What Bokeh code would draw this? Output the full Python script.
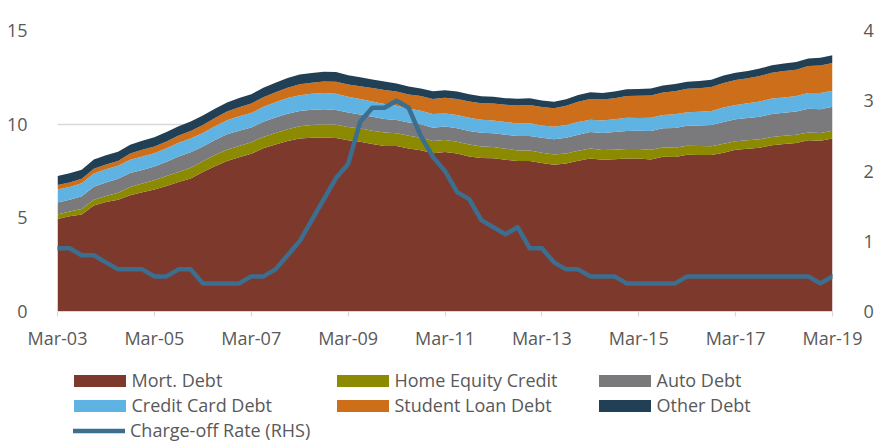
from bokeh.plotting import figure
from bokeh.layouts import column
from bokeh.models import (ColumnDataSource, Range1d, LinearAxis, FixedTicker,
                          Legend, LegendItem)
from bokeh.embed import file_html
from bokeh.resources import INLINE

# ---------------- data (trillions of $, quarterly) ----------------
quarters = [f"{m}-{y:02d}" for y in range(3, 19) for m in ("Mar", "Jun", "Sep", "Dec")] + ["Mar-19"]

mort = [4.94, 5.08, 5.18, 5.66, 5.84, 5.97, 6.21, 6.36, 6.51, 6.70, 6.91, 7.10,
        7.44, 7.76, 8.04, 8.23, 8.42, 8.71, 8.91, 9.10, 9.23, 9.27, 9.29, 9.26,
        9.14, 9.06, 8.94, 8.84, 8.83, 8.70, 8.61, 8.45, 8.52, 8.43, 8.27, 8.20,
        8.18, 8.10, 8.03, 8.03, 7.93, 7.84, 7.90, 8.05, 8.17, 8.10, 8.13, 8.17,
        8.17, 8.12, 8.26, 8.25, 8.37, 8.36, 8.35, 8.48, 8.63, 8.69, 8.74, 8.88,
        8.94, 9.00, 9.14, 9.12, 9.24]
home_equity = [0.24, 0.26, 0.29, 0.30, 0.33, 0.37, 0.43, 0.47, 0.50, 0.53, 0.54, 0.57,
               0.58, 0.59, 0.60, 0.60, 0.61, 0.61, 0.62, 0.63, 0.66, 0.69, 0.70, 0.71,
               0.71, 0.71, 0.71, 0.71, 0.68, 0.68, 0.67, 0.65, 0.64, 0.63, 0.64, 0.61,
               0.60, 0.59, 0.57, 0.56, 0.55, 0.54, 0.54, 0.53, 0.53, 0.52, 0.51, 0.51,
               0.51, 0.51, 0.49, 0.49, 0.48, 0.47, 0.47, 0.47, 0.46, 0.45, 0.45, 0.44,
               0.44, 0.43, 0.42, 0.41, 0.41]
auto = [0.64, 0.62, 0.68, 0.70, 0.72, 0.74, 0.75, 0.73, 0.73, 0.77, 0.83, 0.83,
        0.79, 0.80, 0.82, 0.82, 0.79, 0.81, 0.82, 0.82, 0.81, 0.81, 0.81, 0.79,
        0.77, 0.74, 0.74, 0.72, 0.71, 0.71, 0.71, 0.71, 0.71, 0.72, 0.73, 0.73,
        0.74, 0.75, 0.77, 0.78, 0.79, 0.81, 0.84, 0.86, 0.88, 0.91, 0.94, 0.96,
        0.97, 1.01, 1.03, 1.06, 1.07, 1.10, 1.13, 1.16, 1.17, 1.19, 1.21, 1.22,
        1.23, 1.24, 1.26, 1.27, 1.28]
credit_card = [0.69, 0.69, 0.69, 0.71, 0.70, 0.70, 0.71, 0.72, 0.71, 0.71, 0.73, 0.74,
               0.72, 0.74, 0.75, 0.77, 0.77, 0.80, 0.82, 0.85, 0.85, 0.86, 0.87, 0.87,
               0.84, 0.83, 0.82, 0.80, 0.76, 0.74, 0.73, 0.73, 0.70, 0.71, 0.70, 0.70,
               0.68, 0.68, 0.67, 0.68, 0.66, 0.67, 0.67, 0.68, 0.66, 0.67, 0.68, 0.70,
               0.68, 0.70, 0.71, 0.73, 0.71, 0.73, 0.75, 0.78, 0.76, 0.78, 0.81, 0.83,
               0.82, 0.83, 0.84, 0.87, 0.85]
student_loan = [0.24, 0.24, 0.25, 0.25, 0.26, 0.26, 0.33, 0.35, 0.36, 0.37, 0.38, 0.39,
                0.43, 0.44, 0.46, 0.48, 0.51, 0.51, 0.53, 0.55, 0.58, 0.58, 0.61, 0.64,
                0.66, 0.68, 0.72, 0.76, 0.76, 0.76, 0.78, 0.81, 0.84, 0.86, 0.87, 0.87,
                0.90, 0.91, 0.96, 0.97, 0.99, 0.99, 1.03, 1.08, 1.11, 1.12, 1.13, 1.16,
                1.19, 1.19, 1.20, 1.23, 1.26, 1.26, 1.28, 1.31, 1.34, 1.34, 1.36, 1.38,
                1.41, 1.41, 1.44, 1.46, 1.49]
other = [0.48, 0.49, 0.48, 0.49, 0.49, 0.49, 0.47, 0.48, 0.49, 0.50, 0.50, 0.51,
         0.50, 0.49, 0.49, 0.50, 0.50, 0.50, 0.51, 0.52, 0.52, 0.52, 0.52, 0.51,
         0.49, 0.48, 0.46, 0.45, 0.43, 0.42, 0.41, 0.41, 0.40, 0.39, 0.39, 0.38,
         0.36, 0.36, 0.36, 0.36, 0.35, 0.35, 0.35, 0.36, 0.35, 0.35, 0.36, 0.36,
         0.36, 0.37, 0.37, 0.38, 0.38, 0.39, 0.39, 0.40, 0.39, 0.39, 0.40, 0.40,
         0.40, 0.41, 0.41, 0.41, 0.41]
charge_off = [0.9, 0.9, 0.8, 0.8, 0.7, 0.6, 0.6, 0.6, 0.5, 0.5, 0.6, 0.6,
              0.4, 0.4, 0.4, 0.4, 0.5, 0.5, 0.6, 0.8, 1.0, 1.3, 1.6, 1.9,
              2.1, 2.7, 2.9, 2.9, 3.0, 2.9, 2.5, 2.2, 2.0, 1.7, 1.6, 1.3,
              1.2, 1.1, 1.2, 0.9, 0.9, 0.7, 0.6, 0.6, 0.5, 0.5, 0.5, 0.4,
              0.4, 0.4, 0.4, 0.4, 0.5, 0.5, 0.5, 0.5, 0.5, 0.5, 0.5, 0.5,
              0.5, 0.5, 0.5, 0.4, 0.5]

series_names = ["Mort. Debt", "Home Equity Credit", "Auto Debt",
                "Credit Card Debt", "Student Loan Debt", "Other Debt"]
line_name = "Charge-off Rate (RHS)"
tick_labels = ["Mar-03", "Mar-05", "Mar-07", "Mar-09", "Mar-11",
               "Mar-13", "Mar-15", "Mar-17", "Mar-19"]
left_ticks = [0, 5, 10, 15]
right_ticks = [0, 1, 2, 3, 4]

colors = ["#7E392D", "#8C8A00", "#7A7A7C", "#5FB3E3", "#CD6E1B", "#213F55"]
line_color = "#3B6E8F"
text_color = "#595959"
grid_color = "#D9D9D9"
FONT = "Open Sans"
W = 881

# ---------------- main chart ----------------
x = list(range(len(quarters)))
keys = ["mort", "he", "auto", "cc", "sl", "oth"]
source = ColumnDataSource(dict(x=x, mort=mort, he=home_equity, auto=auto,
                               cc=credit_card, sl=student_loan, oth=other,
                               rate=charge_off))

p = figure(width=W, height=355, output_backend="svg", toolbar_location=None,
           x_range=Range1d(0, len(quarters) - 1), y_range=Range1d(0, 15),
           min_border_left=57, min_border_right=49, min_border_top=30,
           min_border_bottom=44, y_axis_location=None, x_axis_location=None)
p.outline_line_color = None
p.extra_y_ranges = {"rhs": Range1d(0, 4)}

area_renderers = p.varea_stack(stackers=keys, x="x", color=colors, source=source)
line_r = p.line("x", "rate", source=source, y_range_name="rhs",
                line_color=line_color, line_width=4.5,
                line_cap="round", line_join="round")

xaxis = LinearAxis(ticker=FixedTicker(ticks=[quarters.index(t) for t in tick_labels]),
                   major_label_overrides={quarters.index(t): t for t in tick_labels})
xaxis.axis_line_color = grid_color
xaxis.axis_line_width = 1.2
xaxis.major_tick_line_color = grid_color
xaxis.major_tick_line_width = 1.2
xaxis.major_tick_out = 5
xaxis.major_tick_in = 0
xaxis.minor_tick_line_color = None
xaxis.major_label_standoff = 9
p.add_layout(xaxis, "below")

yaxis = LinearAxis(ticker=FixedTicker(ticks=left_ticks))
yaxis.major_label_standoff = 24
p.add_layout(yaxis, "left")

raxis = LinearAxis(y_range_name="rhs", ticker=FixedTicker(ticks=right_ticks))
raxis.major_label_standoff = 25
p.add_layout(raxis, "right")

for ax in (yaxis, raxis):
    ax.axis_line_color = None
    ax.major_tick_line_color = None
    ax.minor_tick_line_color = None
for ax in (xaxis, yaxis, raxis):
    ax.major_label_text_font = FONT
    ax.major_label_text_font_size = "18px"
    ax.major_label_text_color = text_color

p.xgrid.visible = False
p.ygrid.ticker = FixedTicker(ticks=left_ticks[1:])
p.ygrid.grid_line_color = grid_color
p.ygrid.grid_line_width = 1.5

# ---------------- legend strip ----------------
# same series drawn again but outside this strip's (negative) y-range, so
# only their legend swatches are visible
q = figure(width=W, height=441 - 355, output_backend="svg", toolbar_location=None,
           x_range=Range1d(0, len(quarters) - 1), y_range=Range1d(-2, -1),
           min_border=0, x_axis_location=None, y_axis_location=None)
q.outline_line_color = None
q.xgrid.visible = False
q.ygrid.visible = False

swatches = q.varea_stack(stackers=keys, x="x", color=colors, source=source)
line_sw = q.line("x", "rate", source=source, line_color=line_color,
                 line_width=4.5, line_cap="round")

common = dict(orientation="vertical", padding=0, margin=0, spacing=0,
              label_height=25,
              label_text_font=FONT, label_text_font_size="18px",
              label_text_color=text_color, border_line_color=None,
              background_fill_alpha=0)
H = 441 - 355
top = 12.5
cols = [(0, 3, 9.5), (1, 4, 272.5), (2, 5, 534.5)]
for a, b, cx in cols:
    its = [LegendItem(label=series_names[a], renderers=[swatches[a]]),
           LegendItem(label=series_names[b], renderers=[swatches[b]])]
    q.add_layout(Legend(items=its, location=(cx, H - top - 2 * 25),
                        glyph_width=65, glyph_height=15, label_standoff=0,
                        **common), "center")
q.add_layout(Legend(items=[LegendItem(label=line_name, renderers=[line_sw])],
                    location=(16, H - top - 3 * 25),
                    glyph_width=52, glyph_height=25, label_standoff=5, **common),
             "center")

open("out.html", "w").write(file_html(column(p, q, spacing=0), INLINE))
